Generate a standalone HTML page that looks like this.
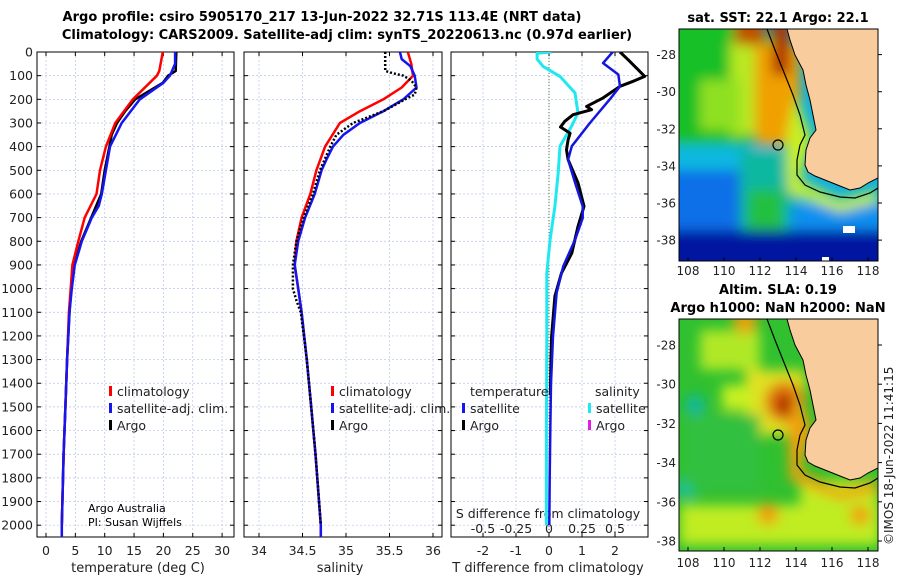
<!DOCTYPE html>
<html><head><meta charset="utf-8"><style>
body{margin:0;background:#fff}
svg{display:block;font-family:"DejaVu Sans","Liberation Sans",sans-serif}
</style></head><body>
<svg id="c" width="900" height="580" viewBox="0 0 900 580">
<defs>
<filter id="bl" x="-20%" y="-20%" width="140%" height="140%"><feGaussianBlur stdDeviation="6"/></filter>
<clipPath id="m1"><rect x="679" y="29" width="199" height="232"/></clipPath>
<clipPath id="m2"><rect x="679" y="319" width="199" height="232"/></clipPath>
<clipPath id="p1"><rect x="37" y="52" width="197" height="485"/></clipPath>
<clipPath id="p2"><rect x="244" y="52" width="198" height="485"/></clipPath>
<clipPath id="p3"><rect x="451" y="52" width="197" height="485"/></clipPath>
</defs>
<g font-weight="bold" font-size="13" text-anchor="middle">
<text x="322" y="21">Argo profile: csiro 5905170_217 13-Jun-2022 32.71S 113.4E (NRT data)</text>
<text x="347" y="39">Climatology: CARS2009. Satellite-adj clim: synTS_20220613.nc (0.97d earlier)</text>
</g>
<g id="grid"></g>
<g id="axes"></g>
<g id="series"></g>
<g id="legends" font-size="12.5" fill="#222"></g>

<!-- map 1 -->
<g>
<g clip-path="url(#m1)">
<rect x="679" y="29" width="199" height="232" fill="#10b0e0"/>
<g filter="url(#bl)">
<rect x="660" y="10" width="90" height="135" fill="#18c028"/>
<rect x="730" y="40" width="50" height="95" fill="#b8e820"/>
<rect x="700" y="80" width="40" height="50" fill="#90e020"/>
<rect x="755" y="45" width="45" height="100" fill="#f0a000"/>
<rect x="735" y="15" width="30" height="30" fill="#c05000"/>
<rect x="772" y="15" width="18" height="60" fill="#b03000"/>
<rect x="660" y="145" width="80" height="25" fill="#10b8e0"/>
<rect x="660" y="170" width="80" height="60" fill="#1070e8"/>
<rect x="740" y="150" width="60" height="95" fill="#10b8a0"/>
<rect x="748" y="190" width="35" height="40" fill="#20c040"/>
<rect x="660" y="230" width="240" height="45" fill="#0018a0"/>
<rect x="790" y="205" width="100" height="25" fill="#1090f0"/>
<path d="M795,95 L812,140 L800,180 L840,200 L878,190 L878,202 L840,212 L788,192 L786,140 Z" fill="#c8f020"/>
</g>
<rect x="843" y="226" width="12" height="7" fill="#fff"/>
<rect x="822" y="257" width="7" height="4" fill="#fff"/>
<polygon points="787,29 790,40 795,55 803,70 806,85 810,100 813,115 816,130 810,138 806,150 805,165 808,172 815,176 825,180 840,186 850,190 860,188 868,183 878,178 878,29" fill="#f8cc9c" stroke="#000" stroke-width="1"/>
<polyline points="767,29 775,50 783,70 793,95 800,115 805,135 800,145 797,160 797,175 805,185 820,192 840,197 855,198 870,193 878,188" fill="none" stroke="#000" stroke-width="1.2"/>
</g>
<rect x="679" y="29" width="199" height="232" fill="none" stroke="#000" stroke-width="1"/>
<circle cx="778" cy="145" r="5" fill="none" stroke="#000" stroke-width="1.2"/>
<text x="778" y="22" font-size="13" font-weight="bold" text-anchor="middle">sat. SST: 22.1 Argo: 22.1</text>
</g>

<!-- map 2 -->
<g>
<g clip-path="url(#m2)">
<rect x="679" y="319" width="199" height="232" fill="#30c030"/>
<g filter="url(#bl)">
<rect x="700" y="330" width="60" height="40" fill="#b0e828"/>
<rect x="745" y="370" width="60" height="65" fill="#e0e020"/>
<circle cx="785" cy="402" r="20" fill="#e07010"/>
<circle cx="787" cy="405" r="10" fill="#a01000"/>
<circle cx="745" cy="322" r="12" fill="#e8a010"/>
<rect x="722" y="385" width="30" height="25" fill="#c8f020"/>
<circle cx="695" cy="405" r="10" fill="#10b8a0"/>
<circle cx="725" cy="448" r="9" fill="#10c0a0"/>
<circle cx="687" cy="488" r="10" fill="#10c0b0"/>
<rect x="680" y="505" width="200" height="40" fill="#c0ec20"/>
<circle cx="768" cy="514" r="11" fill="#f0a010"/>
<circle cx="860" cy="515" r="10" fill="#f0a010"/>
<rect x="800" y="480" width="78" height="25" fill="#c0ec20"/>
<path d="M795,385 L812,430 L800,470 L840,490 L878,480 L878,492 L840,500 L790,480 L788,430 Z" fill="#f0a010"/>
<rect x="685" y="415" width="75" height="75" fill="#30c040"/>
</g>
<polygon points="787,319 790,330 795,345 803,360 806,375 810,390 813,405 816,420 810,428 806,440 805,455 808,462 815,466 825,470 840,476 850,480 860,478 868,473 878,468 878,319" fill="#f8cc9c" stroke="#000" stroke-width="1"/>
<polyline points="767,319 775,340 783,360 793,385 800,405 805,425 800,435 797,450 797,465 805,475 820,482 840,487 855,488 870,483 878,478" fill="none" stroke="#000" stroke-width="1.2"/>
</g>
<rect x="679" y="319" width="199" height="232" fill="none" stroke="#000" stroke-width="1"/>
<circle cx="778" cy="435" r="5" fill="none" stroke="#000" stroke-width="1.2"/>
<text x="778" y="294" font-size="13" font-weight="bold" text-anchor="middle">Altim. SLA: 0.19</text>
<text x="778" y="312" font-size="13" font-weight="bold" text-anchor="middle">Argo h1000: NaN h2000: NaN</text>
</g>
<g id="mapticks" font-size="12" fill="#222"></g>
<text transform="translate(893,545) rotate(-90)" font-size="12" fill="#222">©IMOS 18-Jun-2022 11:41:15</text>
<g font-size="11" fill="#000">
<text x="88" y="512">Argo Australia</text>
<text x="88" y="526">PI: Susan Wijffels</text>
</g>
</svg>
<script>
// ---- data ----
const tempDepth = [0,80,100,200,300,400,500,600,700,800,900,1000,1100,1300,1500,1700,2000,2050];
const tempClim  = [19.9,19.3,18.9,14.8,11.8,10.2,9.2,8.6,6.6,5.5,4.5,4.2,3.9,3.6,3.3,3.0,2.7,2.7];
const satDepth  = [0,50,100,130,200,300,400,500,600,650,700,800,900,1000,1100,1300,1500,1700,2000,2050];
const tempSat   = [22.0,22.0,21.1,20.0,16.0,12.9,10.9,10.2,9.5,9.0,7.8,6.1,4.9,4.4,4.0,3.6,3.3,3.0,2.7,2.7];
const argoTDepth= [0,80,100,130,200,250,300,350,400,500,600,700,800,900,1000,1100,1300,1500,1700,2000];
const tempArgo  = [22.2,22.1,20.8,19.9,15.2,13.5,12.1,11.2,10.8,10.0,9.4,7.7,6.0,4.8,4.3,4.0,3.6,3.3,3.0,2.7];
const salDepth  = [0,50,100,150,200,250,300,400,500,600,700,800,900,1000,1100,1300,1500,1700,2000,2050];
const salClim   = [35.71,35.75,35.77,35.64,35.43,35.16,34.93,34.76,34.66,34.59,34.49,34.43,34.41,34.45,34.49,34.55,34.6,34.65,34.71,34.71];
const salSatDepth=[0,30,60,100,150,200,250,300,350,400,450,500,600,700,800,900,1000,1100,1300,1500,1700,2000,2050];
const salSat    = [35.62,35.64,35.74,35.79,35.81,35.66,35.43,35.16,34.97,34.85,34.78,34.72,34.64,34.53,34.45,34.41,34.45,34.49,34.55,34.6,34.65,34.71,34.71];
const salArgoDepth=[0,80,90,100,120,150,180,200,250,300,350,400,450,500,600,700,800,900,1000,1050,1100,1300,1500,1700,2000];
const salArgo   = [35.45,35.45,35.54,35.66,35.75,35.81,35.79,35.68,35.43,35.08,34.89,34.82,34.76,34.70,34.62,34.51,34.43,34.39,34.39,34.43,34.48,34.55,34.6,34.65,34.71];
const dTSatDepth= [0,47,95,145,199,300,398,455,553,652,702,793,906,1018,1202,1400,1600,1800,2000];
const dTSat     = [1.93,1.64,2.1,2.15,1.85,1.24,0.69,0.58,0.79,1.02,1.02,0.79,0.43,0.23,0.12,0.06,0.04,0.02,0.01];
const dTArgoDepth=[0,33,75,103,124,145,194,230,244,265,293,317,343,371,413,455,553,652,737,850,934,1032,1202,1300,1450];
const dTArgo    = [2.15,2.4,2.7,2.9,2.55,2.15,1.64,1.14,1.29,0.73,0.48,0.35,0.64,0.58,0.53,0.58,0.88,1.06,0.88,0.69,0.38,0.18,0.08,0.06,0.04];
const dSSatDepth= [0,5,30,61,103,173,258,315,398,511,652,793,934,1202,1600,2000];
const dSSat     = [0.02,-0.09,-0.09,-0.045,0.083,0.197,0.22,0.17,0.083,0.07,0.045,0.008,-0.017,-0.017,-0.02,-0.02];
const depthTicks=[0,100,200,300,400,500,600,700,800,900,1000,1100,1200,1300,1400,1500,1600,1700,1800,1900,2000];
const tempTicks=[0,5,10,15,20,25,30];
const salTicks=[34,34.5,35,35.5,36];
const dTTicks=[-2,-1,0,1,2];
const dSTicks=[-0.5,-0.25,0,0.25,0.5];
const dSTickLabels=['-0.5','-0.25','0','0.25','0.5'];
const lonTicks=[108,110,112,114,116,118];
const latTicks=[-28,-30,-32,-34,-36,-38];

// ---- scales ----
const NS='http://www.w3.org/2000/svg';
const yD=d=>52+d*0.2366;
const xT=t=>46+t*5.87;
const xS=s=>259+(s-34)*87;
const xDT=v=>549+v*33;
const xDS=v=>549+v*132;
const xLon=l=>688+(l-108)*18;
const yLat1=l=>54.6+(-28-l)*18.55;
const yLat2=l=>345+(-28-l)*19.6;
function mk(tag,attrs,parent){const e=document.createElementNS(NS,tag);for(const k in attrs)e.setAttribute(k,attrs[k]);parent.appendChild(e);return e;}
const grid=document.getElementById('grid'),axes=document.getElementById('axes'),ser=document.getElementById('series'),leg=document.getElementById('legends'),mt=document.getElementById('mapticks');
const panels=[{x0:37,x1:234,ticks:tempTicks,sc:xT,lab:'temperature (deg C)',lx:138,name:'temperature'},
 {x0:244,x1:442,ticks:salTicks,sc:xS,lab:'salinity',lx:340,name:'salinity'},
 {x0:451,x1:648,ticks:dTTicks,sc:xDT,lab:'T difference from climatology',lx:548,name:'difference'}];
panels.forEach((p,i)=>{
  depthTicks.forEach(d=>{const l=mk('line',{x1:p.x0,x2:p.x1,y1:yD(d),y2:yD(d),stroke:'#b8c4e8','stroke-width':0.7,'stroke-dasharray':'2,2'},grid);
    
    });
  p.ticks.forEach(t=>{const l=mk('line',{x1:p.sc(t),x2:p.sc(t),y1:52,y2:537,stroke:'#b8c4e8','stroke-width':0.7,'stroke-dasharray':'2,2'},grid);
    
    
    const tx=mk('text',{x:p.sc(t),y:555,'font-size':12.5,'text-anchor':'middle',fill:'#222'},axes);tx.textContent=String(t);
    
    
    mk('line',{x1:p.sc(t),x2:p.sc(t),y1:537,y2:533,stroke:'#000'},axes);mk('line',{x1:p.sc(t),x2:p.sc(t),y1:52,y2:56,stroke:'#000'},axes);});
  depthTicks.forEach(d=>{mk('line',{x1:p.x0,x2:p.x0+4,y1:yD(d),y2:yD(d),stroke:'#000'},axes);mk('line',{x1:p.x1,x2:p.x1-4,y1:yD(d),y2:yD(d),stroke:'#000'},axes);});
  const r=mk('rect',{x:p.x0,y:52,width:p.x1-p.x0,height:485,fill:'none',stroke:'#000','stroke-width':1},axes);
  
  
  const lt=mk('text',{x:p.lx,y:572,'font-size':13,'text-anchor':'middle',fill:'#222'},axes);lt.textContent=p.lab;
  
  
});
depthTicks.forEach(d=>{const t=mk('text',{x:33,y:yD(d)+4.5,'font-size':12.5,'text-anchor':'end',fill:'#222'},axes);t.textContent=String(d);
  
  });
mk('line',{x1:xDT(0),x2:xDT(0),y1:52,y2:537,stroke:'#557744','stroke-width':1,'stroke-dasharray':'1,2'},grid);
const sh=mk('text',{x:548,y:518,'font-size':12.5,'text-anchor':'middle',fill:'#222'},axes);sh.textContent='S difference from climatology';


dSTicks.forEach((v,i)=>{const t=mk('text',{x:xDS(v),y:533,'font-size':12.5,'text-anchor':'middle',fill:'#222'},axes);t.textContent=dSTickLabels[i];
  
  });

function line(vals,depths,sc,color,w,clip,name,dash){
  const pts=vals.map((v,i)=>sc(v).toFixed(1)+','+yD(depths[i]).toFixed(1)).join(' ');
  const a={points:pts,fill:'none',stroke:color,'stroke-width':w,'stroke-linejoin':'round','clip-path':'url(#'+clip+')'};
  if(dash)a['stroke-dasharray']=dash;
  const e=mk('polyline',a,ser);
  
  
}
line(tempArgo,argoTDepth,xT,'#000',2.5,'p1','temperature-argo-line');
line(tempClim,tempDepth,xT,'#f00',2.5,'p1','temperature-climatology-line');
line(tempSat,satDepth,xT,'#1515f0',2.5,'p1','temperature-satellite-line');
line(salClim,salDepth,xS,'#f00',2.5,'p2','salinity-climatology-line');
line(salSat,salSatDepth,xS,'#1515f0',2.5,'p2','salinity-satellite-line');
line(salArgo,salArgoDepth,xS,'#000',2.5,'p2','salinity-argo-line','2,2');
line(dSSat,dSSatDepth,xDS,'#20e8f0',3,'p3','salinity-satellite-difference-line');
line(dTArgo,dTArgoDepth,xDT,'#000',3,'p3','temperature-argo-difference-line');
line(dTSat,dTSatDepth,xDT,'#1515e0',2.5,'p3','temperature-satellite-difference-line');

function legEntry(x,y,color,label,name){
  const r=mk('rect',{x:x,y:y-10,width:3,height:10,fill:color},leg);
  
  
  const t=mk('text',{x:x+8,y:y},leg);t.textContent=label;
  
  
}
legEntry(109,396,'#f00','climatology','legend-climatology');
legEntry(109,413,'#1515f0','satellite-adj. clim.','legend-satellite-adj');
legEntry(109,430,'#000','Argo','legend-argo');
legEntry(331,396,'#f00','climatology','legend-sal-climatology');
legEntry(331,413,'#1515f0','satellite-adj. clim.','legend-sal-satellite-adj');
legEntry(331,430,'#000','Argo','legend-sal-argo');
const th=mk('text',{x:470,y:396},leg);th.textContent='temperature';


legEntry(462,413,'#1515f0','satellite','legend-t-satellite');
legEntry(462,430,'#000','Argo','legend-t-argo');
const sh2=mk('text',{x:595,y:396},leg);sh2.textContent='salinity';


legEntry(588,413,'#20e8f0','satellite','legend-s-satellite');
legEntry(588,430,'#e020e0','Argo','legend-s-argo');

// map ticks
lonTicks.forEach(l=>{
  [[261,275],[551,567]].forEach(([yb,yt])=>{
    mk('line',{x1:xLon(l),x2:xLon(l),y1:yb,y2:yb-4,stroke:'#000'},mt);
    const t=mk('text',{x:xLon(l),y:yt,'text-anchor':'middle'},mt);t.textContent=String(l);
    
    
  });
});
latTicks.forEach(l=>{
  [yLat1,yLat2].forEach(f=>{
    mk('line',{x1:878,x2:882,y1:f(l),y2:f(l),stroke:'#000'},mt);
    const t=mk('text',{x:676,y:f(l)+4.5,'text-anchor':'end'},mt);t.textContent=String(l);
    
    
  });
});
</script>
</body></html>
